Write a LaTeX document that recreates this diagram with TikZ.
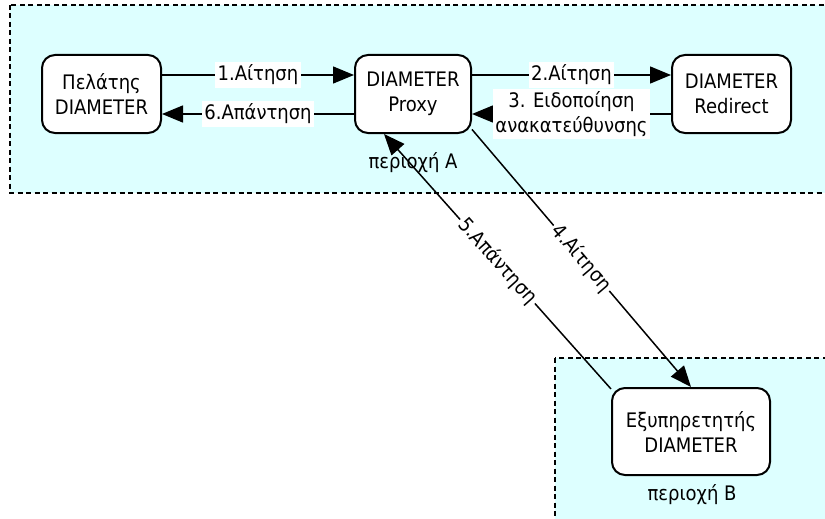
\documentclass[tikz,border=0pt]{standalone}
\usepackage{fontspec}
\setmainfont{DejaVu Sans Condensed}
\usetikzlibrary{arrows.meta}
\definecolor{zonefill}{RGB}{221,255,255}
\begin{document}
\begin{tikzpicture}[x=1pt,y=-1pt,
  txt/.style={font=\fontsize{20}{25}\selectfont},
  box/.style={txt, draw, line width=2pt, rounded corners=13pt, fill=white,
    minimum width=119pt, minimum height=78pt, align=center, inner sep=0pt},
  msg/.style={-{Triangle[length=21pt,width=17pt]}, line width=1.5pt},
  lab/.style={txt, fill=white, inner sep=2.5pt, align=center},
  zone/.style={draw, fill=zonefill, line width=1.5pt, dash pattern=on 5pt off 3.5pt}
]
\useasboundingbox (0,0) rectangle (825,519);

% domains A and B
\begin{scope}
  \clip (0,0) rectangle (825,519);
  \draw[zone] (10,5) rectangle (845,193);
  \draw[zone] (555,358) rectangle (845,540);
\end{scope}

% peers
\node[box] (client) at (101.5,94) {Πελάτης\\DIAMETER};
\node[box, minimum width=116pt] (proxy) at (413,94) {DIAMETER\\Proxy};
\node[box] (redirect) at (731.5,94) {DIAMETER\\Redirect};
\node[box, minimum width=158pt, minimum height=87pt] (server) at (691,431.5) {Εξυπηρετητής\\DIAMETER};

\node[txt] (zoneA) at (413,163) {περιοχή A};
\node[txt] (zoneB) at (692,495) {περιοχή B};

% message rows
\coordinate (r1) at (0,75);
\coordinate (r2) at (0,114);
\coordinate (tip5) at (384,0);

\draw[msg] (client.east |- r1) -- node[lab] {1.Αίτηση} (proxy.west |- r1);
\draw[msg] (proxy.west |- r2) -- node[lab] {6.Απάντηση} (client.east |- r2);
\draw[msg] (proxy.east |- r1) -- node[lab] {2.Αίτηση} (redirect.west |- r1);
\draw[msg] (redirect.west |- r2) -- node[lab] {3. Ειδοποίηση\\ανακατεύθυνσης} (proxy.east |- r2);
\draw[msg] (proxy.-31) -- node[lab, sloped] {4.Αίτηση} (server.north);
\draw[msg] (server.152) -- node[lab, sloped] {5.Απάντηση} (proxy.south -| tip5);
\end{tikzpicture}
\end{document}
